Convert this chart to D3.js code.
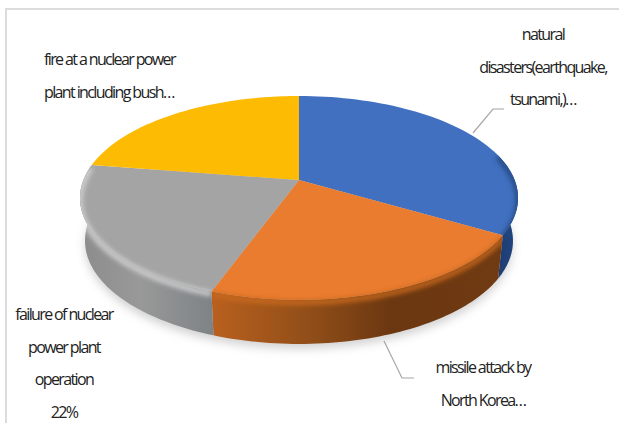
<!DOCTYPE html>
<html>
<head>
<meta charset="utf-8">
<script src="https://cdnjs.cloudflare.com/ajax/libs/d3/7.8.5/d3.min.js"></script>
<style>
html, body { margin: 0; padding: 0; background: #fff; }
svg { display: block; }
text { font-family: "Open Sans", sans-serif; font-size: 16px; letter-spacing: -1.62px; fill: #222; }
</style>
</head>
<body>
<svg id="chart" width="619" height="423"></svg>
<script>
const categories = ["natural disasters", "missile attack", "plant failure", "fire"];
const shares = [33.5, 22, 22, 22.5];
const topColors = ["#4170c0", "#ea7c30", "#a4a4a4", "#fdbc03"];
const bandColors = ["#24467f", "#c9691f", "#d4d4d4", "#fdbc03"];
const wallStops = [
  [[0, "#1d3a6e"], [1, "#234884"]],
  [[0, "#b9601f"], [0.35, "#8f4d18"], [0.62, "#6b3711"], [1, "#703a12"]],
  [[0, "#8c8c8c"], [0.45, "#999999"], [1, "#7e8386"]],
  [[0, "#7f6000"], [1, "#7f6000"]]
];

const labelLines = [
  { lines: ["natural", "disasters(earthquake,", "tsunami,)…"], x: 543, y: 40, anchor: "middle" },
  { lines: ["missile attack by", "North Korea…"], x: 483, y: 373, anchor: "middle" },
  { lines: ["failure of nuclear", "power plant", "operation", "22%"], x: 64, y: 320, anchor: "middle" },
  { lines: ["fire at a nuclear power", "plant including bush…"], x: 44, y: 65, anchor: "start" }
];
const leaders = [
  [[473, 133], [493, 109], [504, 109]],
  [[384, 341], [402, 378], [414, 378]]
];

const svg = d3.select("#chart");
const defs = svg.append("defs");

// Perspective projection of the flat disc onto the page.
const apex = { x: 299, y: 180 };
const persp = 0.176, scaleX = 215.6, scaleY = 98.8, depth = 43, baseShrink = 0.977;
const frontFrom = 1.3, frontTo = 4.86;
const project = (angle, r = 1) => {
  const u = r * Math.sin(angle), v = -r * Math.cos(angle);
  const w = 1 - persp * v;
  return [apex.x + scaleX * u / w, apex.y + scaleY * v / w];
};
const toBase = ([x, y]) => [apex.x + (x - apex.x) * baseShrink, y + depth + (y - 198) * 0.01];
const arcs = d3.pie().sort(null).value(d => d)(shares);
const samples = (a0, a1) => d3.range(0, 61).map(i => a0 + (a1 - a0) * i / 60);
const line = d3.line();

const blur = (id, s) => defs.append("filter").attr("id", id)
  .attr("filterUnits", "userSpaceOnUse").attr("x", 0).attr("y", 0).attr("width", 619).attr("height", 423)
  .append("feGaussianBlur").attr("stdDeviation", s);
blur("soft", 5);
blur("bevel", 2.5);

// Frame, open towards the right and bottom of the page
svg.append("rect").attr("x", 6).attr("y", 9).attr("width", 640).attr("height", 440)
  .attr("fill", "none").attr("stroke", "#dcdcdc").attr("stroke-width", 2);

// Soft shadow below the disc
const rim = samples(0, 2 * Math.PI).map(a => project(a));
svg.append("path")
  .attr("d", line(rim.map(toBase).map(([x, y]) => [x, y + 5])) + "Z")
  .attr("fill", "#b4b4b4").attr("opacity", 0.6).attr("filter", "url(#soft)");

const extents = [[495, 520], [212, 502], [80, 213], [96, 300]];

arcs.forEach((d, i) => {
  const pts = samples(d.startAngle, d.endAngle).map(a => project(a));
  const face = [project(0, 0)].concat(pts);
  const from = Math.max(d.startAngle, frontFrom), to = Math.min(d.endAngle, frontTo);
  const front = to > from ? samples(from, to).map(a => project(a)) : [];
  const wall = front.concat(front.map(toBase).reverse());

  const grad = defs.append("linearGradient").attr("id", "wall" + i)
    .attr("gradientUnits", "userSpaceOnUse")
    .attr("x1", extents[i][0]).attr("x2", extents[i][1]).attr("y1", 0).attr("y2", 0);
  wallStops[i].forEach(([o, c]) => grad.append("stop").attr("offset", o).attr("stop-color", c));

  if (front.length) {
    svg.append("path").attr("d", line(wall) + "Z").attr("fill", `url(#wall${i})`);
  }
  svg.append("path").attr("d", line(face) + "Z").attr("fill", topColors[i]);

  // Rounded edge: a blurred band along the part of the rim facing the viewer
  if (front.length) {
    defs.append("clipPath").attr("id", "slice" + i).append("path")
      .attr("d", line(face) + "Z " + line(wall) + "Z");
    svg.append("g").attr("clip-path", `url(#slice${i})`)
      .append("path").attr("d", line(front.map(([x, y]) => [x, y + 2.5])))
      .attr("fill", "none").attr("stroke", bandColors[i]).attr("stroke-width", 5)
      .attr("filter", "url(#bevel)");
  }
});

// Leader lines
svg.append("g").selectAll("path").data(leaders).join("path")
  .attr("d", d => line(d)).attr("fill", "none").attr("stroke", "#a6a6a6").attr("stroke-width", 1.2);

// Labels
labelLines.forEach(l => {
  const t = svg.append("text").attr("text-anchor", l.anchor);
  l.lines.forEach((s, i) => t.append("tspan").attr("x", l.x).attr("y", l.y + i * 32.7).text(s));
});
</script>
</body>
</html>
